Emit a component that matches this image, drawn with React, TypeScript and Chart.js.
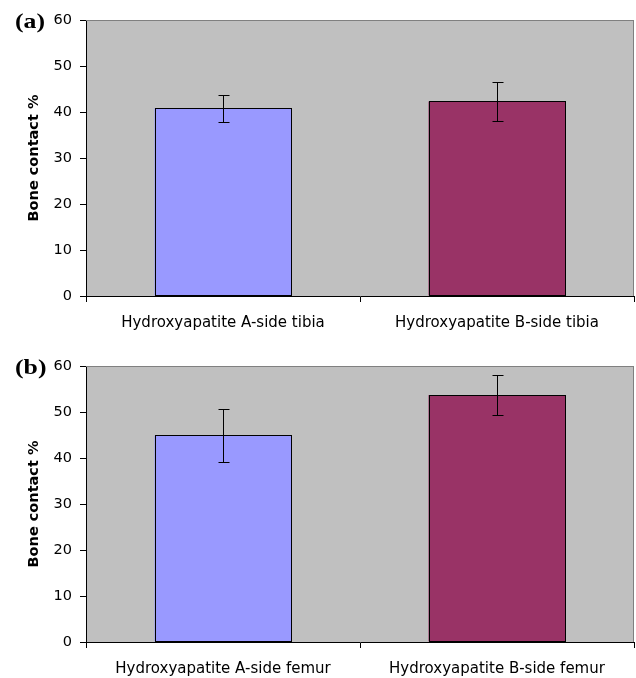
import React, { useEffect, useRef } from "react";
import { Chart, registerables } from "chart.js";

Chart.register(...registerables);

// ---- Data ----
const categoriesTibia = ["Hydroxyapatite A-side tibia", "Hydroxyapatite B-side tibia"];
const valuesTibia = [40.8, 42.3];
const errorsTibia = [3.0, 4.3];

const categoriesFemur = ["Hydroxyapatite A-side femur", "Hydroxyapatite B-side femur"];
const valuesFemur = [44.9, 53.7];
const errorsFemur = [5.8, 4.3];

const barColors = ["#9999FF", "#993366"];
const yMin = 0;
const yMax = 60;
const yStep = 10;
const yTitle = "Bone contact %";
const panelLabels = ["(a)", "(b)"];

const SANS = '"DejaVu Sans", "Liberation Sans", Arial, sans-serif';
const SERIF = '"Liberation Serif", "Times New Roman", Times, serif';

const plotBgPlugin = {
  id: "plotBg",
  beforeDraw(chart: any) {
    const { ctx, chartArea: a } = chart;
    ctx.save();
    ctx.fillStyle = "#C0C0C0";
    ctx.fillRect(a.left, a.top, a.right - a.left, a.bottom - a.top);
    ctx.restore();
  },
  afterDraw(chart: any) {
    const { ctx, chartArea: a } = chart;
    ctx.save();
    ctx.strokeStyle = "#808080";
    ctx.lineWidth = 1;
    ctx.beginPath();
    ctx.moveTo(a.left, Math.round(a.top) + 0.5);
    ctx.lineTo(a.right, Math.round(a.top) + 0.5);
    ctx.moveTo(Math.round(a.right) - 0.5, a.top);
    ctx.lineTo(Math.round(a.right) - 0.5, a.bottom);
    ctx.stroke();
    ctx.restore();
  },
};

const errorBarPlugin = {
  id: "errorBars",
  afterDatasetsDraw(chart: any, _args: any, opts: any) {
    const errors: number[] = opts.errors || [];
    const { ctx } = chart;
    const yScale = chart.scales.y;
    const meta = chart.getDatasetMeta(0);
    const data = chart.data.datasets[0].data as number[];
    ctx.save();
    ctx.strokeStyle = "#000";
    ctx.lineWidth = 1;
    meta.data.forEach((bar: any, i: number) => {
      // crisp bar outline
      const l = Math.round(bar.x - bar.width / 2) + 0.5;
      const r = Math.round(bar.x + bar.width / 2) - 0.5;
      const t = Math.round(bar.y) + 0.5;
      const b = Math.round(bar.base) - 0.5;
      ctx.strokeRect(l, t, r - l, b - t);

      const e = errors[i];
      if (e == null) return;
      const x = Math.round(bar.x) + 0.5;
      const yT = Math.round(yScale.getPixelForValue(data[i] + e)) + 0.5;
      const yB = Math.round(yScale.getPixelForValue(data[i] - e)) + 0.5;
      const cap = 5;
      ctx.beginPath();
      ctx.moveTo(x, yT);
      ctx.lineTo(x, yB);
      ctx.moveTo(x - cap, yT);
      ctx.lineTo(x + cap + 1, yT);
      ctx.moveTo(x - cap, yB);
      ctx.lineTo(x + cap + 1, yB);
      ctx.stroke();
    });
    ctx.restore();
  },
};

type PanelProps = {
  categories: string[];
  values: number[];
  errors: number[];
  top: number;
  height: number;
  label: string;
};

function BarPanel({ categories, values, errors, top, height, label }: PanelProps) {
  const ref = useRef<HTMLCanvasElement>(null);
  useEffect(() => {
    const plotBottom = 296;
    const chart = new Chart(ref.current as HTMLCanvasElement, {
      type: "bar",
      data: {
        labels: categories,
        datasets: [
          {
            data: values,
            backgroundColor: barColors,
            borderWidth: 0,
            barPercentage: 0.5,
            categoryPercentage: 1.0,
          },
        ],
      },
      options: {
        responsive: false,
        maintainAspectRatio: false,
        animation: false,
        devicePixelRatio: 1,
        layout: { padding: { top: 20, right: 2, left: 0, bottom: 0 } },
        plugins: {
          legend: { display: false },
          tooltip: { enabled: false },
          errorBars: { errors },
        } as any,
        scales: {
          x: {
            grid: {
              display: true,
              drawOnChartArea: false,
              drawTicks: true,
              tickLength: 6,
              color: "#000",
              offset: true,
            },
            border: { display: true, color: "#000", width: 1 },
            ticks: {
              color: "#000",
              font: { family: SANS, size: 15 },
              padding: 12,
              maxRotation: 0,
              autoSkip: false,
            },
            afterFit: (s: any) => {
              s.height = height - plotBottom;
            },
          },
          y: {
            min: yMin,
            max: yMax,
            grid: {
              display: true,
              drawOnChartArea: false,
              drawTicks: true,
              tickLength: 6,
              color: "#000",
            },
            border: { display: true, color: "#000", width: 1 },
            ticks: {
              stepSize: yStep,
              color: "#000",
              font: { family: SANS, size: 14.5 },
              padding: 8,
            },
            title: {
              display: true,
              text: yTitle,
              color: "#000",
              font: { family: SANS, size: 14.5, weight: "bold" },
              padding: { top: 26, bottom: 0 },
            },
            afterFit: (s: any) => {
              s.width = 86;
            },
          },
        },
      },
      plugins: [plotBgPlugin, errorBarPlugin],
    } as any);
    return () => chart.destroy();
  }, []);

  return (
    <div style={{ position: "absolute", left: 0, top, width: 636, height, overflow: "hidden" }}>
      <canvas ref={ref} width={636} height={height} style={{ display: "block" }} />
      <div
        style={{
          position: "absolute",
          left: 15,
          top: 10,
          font: `bold 22px ${SERIF}`,
          lineHeight: "22px",
          color: "#000",
          whiteSpace: "nowrap",
          transform: "scaleX(1.17)",
          transformOrigin: "left top",
        }}
      >
        {label}
      </div>
    </div>
  );
}

export default function App() {
  return (
    <div style={{ position: "fixed", left: 0, top: 0, width: 636, height: 678, background: "#fff" }}>
      <BarPanel
        categories={categoriesTibia}
        values={valuesTibia}
        errors={errorsTibia}
        top={0}
        height={340}
        label={panelLabels[0]}
      />
      <BarPanel
        categories={categoriesFemur}
        values={valuesFemur}
        errors={errorsFemur}
        top={346}
        height={332}
        label={panelLabels[1]}
      />
    </div>
  );
}
